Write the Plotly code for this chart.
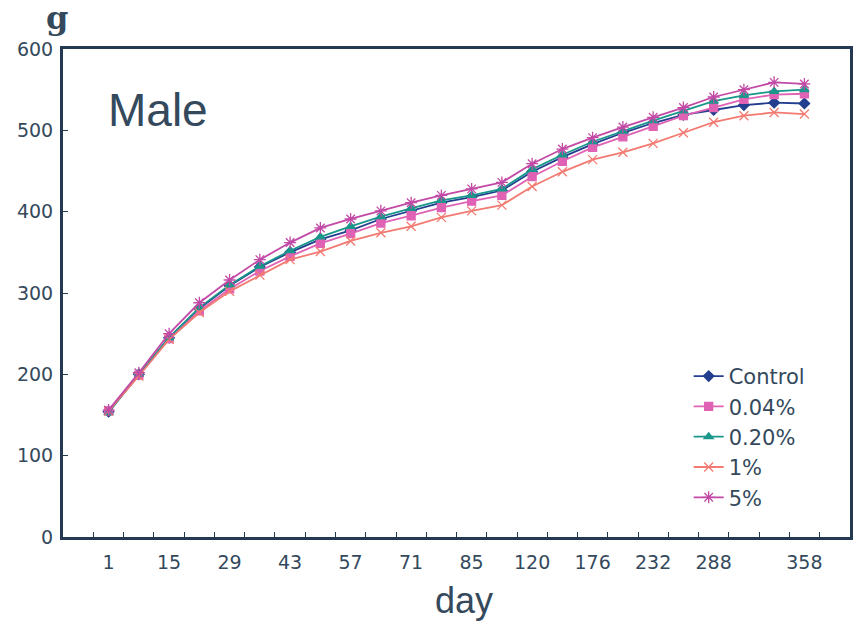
import plotly.graph_objects as go

days = ["1", "8", "15", "22", "29", "36", "43", "50", "57", "64", "71", "78",
        "85", "92", "120", "148", "176", "204", "232", "260", "288", "316", "344", "358"]
tick_labels = {"1": "1", "15": "15", "29": "29", "43": "43", "57": "57", "71": "71",
               "85": "85", "120": "120", "176": "176", "232": "232", "288": "288", "358": "358"}

control = [154, 200, 245, 281, 309, 332, 350, 366, 377, 391, 401, 411,
           418, 426, 449, 467, 483, 497, 509, 519, 525, 531, 534, 533]
p004 = [155, 199, 244, 278, 305, 327, 345, 361, 373, 386, 395, 405,
        413, 420, 443, 462, 479, 492, 505, 518, 528, 538, 544, 545]
p020 = [153, 200, 245, 282, 310, 333, 352, 369, 382, 394, 404, 414,
        420, 428, 452, 470, 486, 499, 512, 524, 536, 543, 548, 550]
p1 = [155, 198, 243, 276, 302, 322, 341, 351, 364, 374, 382, 393,
      401, 408, 431, 449, 464, 473, 484, 497, 510, 518, 522, 520]
p5 = [156, 202, 250, 288, 316, 341, 362, 380, 391, 401, 411, 420,
      428, 436, 459, 477, 491, 504, 516, 528, 541, 550, 559, 557]

series = [
    ("Control", control, "#233e8f", "diamond", 8),
    ("0.04%", p004, "#e062b4", "square", 8),
    ("0.20%", p020, "#19978a", "triangle-up", 8),
    ("1%", p1, "#f37a72", "x-thin-open", 9),
    ("5%", p5, "#c24aa6", "asterisk-open", 10),
]

fig = go.Figure()
for name, vals, col, sym, sz in series:
    fig.add_trace(go.Scatter(
        x=days, y=vals, name=name, mode="lines+markers",
        line=dict(color=col, width=1.8),
        marker=dict(symbol=sym, size=sz, color=col, line=dict(color=col, width=1.3)),
    ))

axis_col = "#243a52"
text_col = "#34495c"
font_main = "Liberation Sans, Arial, sans-serif"
font_tick = "DejaVu Sans, sans-serif"

fig.update_layout(
    width=859, height=625,
    margin=dict(l=63, r=9, t=49, b=88, autoexpand=False),
    paper_bgcolor="white", plot_bgcolor="white",
    font=dict(family=font_tick, color=text_col, size=19),
    showlegend=True,
    legend=dict(x=0.795, y=0.371, xanchor="left", yanchor="top",
                bgcolor="rgba(0,0,0,0)", font=dict(size=21, color=text_col, family=font_tick),
                tracegroupgap=0, itemwidth=30),
    xaxis=dict(type="category", categoryorder="array", categoryarray=days,
               tickmode="array", tickvals=days,
               ticktext=[tick_labels.get(d, "") for d in days],
               tickangle=0, automargin=False,
               tickson="boundaries", ticks="inside", ticklen=5, tickwidth=1,
               tickcolor=axis_col, showline=True, linecolor=axis_col, linewidth=3,
               mirror=True, showgrid=False, zeroline=False,
               tickfont=dict(size=19, color=text_col, family=font_tick),
               ticklabelstandoff=6),
    yaxis=dict(range=[0, 600], tickvals=[0, 100, 200, 300, 400, 500, 600],
               automargin=False,
               ticks="inside", ticklen=5, tickwidth=1, tickcolor=axis_col,
               showline=True, linecolor=axis_col, linewidth=3, mirror=True,
               showgrid=False, zeroline=False,
               tickfont=dict(size=19, color=text_col, family=font_tick),
               ticklabelstandoff=3),
    annotations=[
        dict(text="Male", xref="paper", yref="paper", x=0.055, y=0.875,
             xanchor="left", yanchor="middle", showarrow=False,
             font=dict(size=46, color=text_col, family=font_main)),
        dict(text="day", xref="paper", yref="paper", x=0.51, y=-0.13,
             xanchor="center", yanchor="middle", showarrow=False,
             font=dict(size=36, color=text_col, family=font_main)),
        dict(text="<b>g</b>", xref="paper", yref="paper", x=-0.008, y=1.064,
             xanchor="center", yanchor="middle", showarrow=False,
             font=dict(size=32, color=text_col, family="DejaVu Serif, serif")),
    ],
)

fig.write_html(
    "out.html",
    config={"displayModeBar": False},
    post_script="document.body.style.margin='0';document.body.style.overflow='hidden';",
)
